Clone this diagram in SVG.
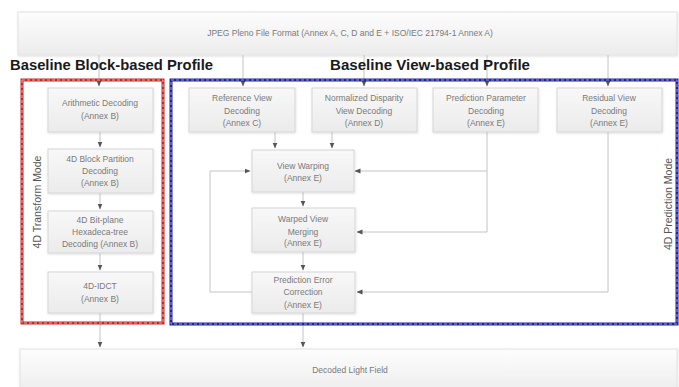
<svg xmlns="http://www.w3.org/2000/svg" width="679" height="387" viewBox="0 0 679 387">
<style>
.box{fill:url(#g);stroke:#d6d6d6;stroke-width:1;filter:url(#sh)}
.big{fill:url(#g2);stroke:#e2e2e2;stroke-width:1;filter:url(#sh)}
.t{font-family:"Liberation Sans",Arial,sans-serif;font-size:8.5px;fill:#7a7a7a;text-anchor:middle}
.title{font-family:"Liberation Sans",Arial,sans-serif;font-size:14px;font-weight:bold;fill:#1a1a1a}
.mode{font-family:"Liberation Sans",Arial,sans-serif;font-size:10.5px;fill:#555;text-anchor:middle}
.c{fill:none;stroke:#c4c4c4;stroke-width:1}
.ca{fill:none;stroke:#c4c4c4;stroke-width:1;marker-end:url(#arr)}
</style>
<defs>
<linearGradient id="g" x1="0" y1="0" x2="0" y2="1"><stop offset="0" stop-color="#f8f8f8"/><stop offset="1" stop-color="#ebebeb"/></linearGradient>
<linearGradient id="g2" x1="0" y1="0" x2="0" y2="1"><stop offset="0" stop-color="#fdfdfd"/><stop offset="1" stop-color="#ececec"/></linearGradient>
<filter id="sh" x="-5%" y="-10%" width="110%" height="130%"><feDropShadow dx="0.5" dy="1" stdDeviation="0.8" flood-color="#000" flood-opacity="0.12"/></filter>
<marker id="arr" markerWidth="6" markerHeight="6" refX="5.5" refY="3" orient="auto" markerUnits="userSpaceOnUse"><path d="M0,0.5 L6,3 L0,5.5 z" fill="#555"/></marker>
</defs>
<rect width="679" height="387" fill="#fff"/>

<g id="file-format"><rect class="big" x="18" y="12" width="659" height="43"/><text class="t" x="350" y="36" font-size="8.3">JPEG Pleno File Format (Annex A, C, D and E + ISO/IEC 21794-1 Annex A)</text></g>

<g id="connectors">
<path class="ca" d="M99,55 V86"/>
<path class="ca" d="M243,55 V86"/>
<path class="ca" d="M364,55 V86"/>
<path class="ca" d="M487,55 V86"/>
<path class="ca" d="M608,55 V86"/>
<path class="ca" d="M100,132 V147"/>
<path class="ca" d="M100,193 V209"/>
<path class="ca" d="M100,253 V270"/>
<path class="ca" d="M100,313 V347"/>
<path class="ca" d="M275,132 V148"/>
<path class="ca" d="M332,132 V148"/>
<path class="ca" d="M303,192 V206"/>
<path class="ca" d="M303,252 V270"/>
<path class="ca" d="M303,313 V347"/>
<path class="ca" d="M487,132 V232 H357"/>
<path class="ca" d="M487,171 H355"/>
<path class="ca" d="M608,132 V292 H357"/>
<path class="ca" d="M252,292 H210 V171 H250"/>
</g>

<text class="title" x="10" y="70" textLength="203" lengthAdjust="spacingAndGlyphs">Baseline Block-based Profile</text>
<text class="title" x="330" y="70" textLength="200" lengthAdjust="spacingAndGlyphs">Baseline View-based Profile</text>

<g id="block-profile">
<rect x="22" y="80" width="141" height="243" fill="none" stroke="#c62828" stroke-width="3"/>
<rect x="22" y="80" width="141" height="243" fill="none" stroke="#f2a6a6" stroke-width="1" stroke-dasharray="3 2"/>
<text class="mode" transform="translate(41,202) rotate(-90)">4D Transform Mode</text>
</g>
<g id="view-profile">
<rect x="171" y="80" width="506" height="244" fill="none" stroke="#23239a" stroke-width="3"/>
<rect x="171" y="80" width="506" height="244" fill="none" stroke="#9a9ad8" stroke-width="1" stroke-dasharray="3 2"/>
<text class="mode" transform="translate(672,204) rotate(-90)">4D Prediction Mode</text>
</g>

<g id="arithmetic"><rect class="box" x="48" y="88" width="105" height="44"/><text class="t" x="100" y="106">Arithmetic Decoding</text><text class="t" x="100" y="119">(Annex B)</text></g>
<g id="block-partition"><rect class="box" x="48" y="149" width="105" height="44"/><text class="t" x="100" y="162">4D Block Partition</text><text class="t" x="100" y="174">Decoding</text><text class="t" x="100" y="186">(Annex B)</text></g>
<g id="bitplane"><rect class="box" x="48" y="211" width="105" height="42"/><text class="t" x="100" y="223">4D Bit-plane</text><text class="t" x="100" y="235">Hexadeca-tree</text><text class="t" x="100" y="247">Decoding (Annex B)</text></g>
<g id="idct"><rect class="box" x="48" y="272" width="105" height="41"/><text class="t" x="100" y="289">4D-IDCT</text><text class="t" x="100" y="302">(Annex B)</text></g>

<g id="reference-view"><rect class="box" x="189" y="88" width="106" height="44"/><text class="t" x="242" y="101">Reference View</text><text class="t" x="242" y="114">Decoding</text><text class="t" x="242" y="126">(Annex C)</text></g>
<g id="disparity"><rect class="box" x="312" y="88" width="105" height="44"/><text class="t" x="364" y="101">Normalized Disparity</text><text class="t" x="364" y="114">View Decoding</text><text class="t" x="364" y="126">(Annex D)</text></g>
<g id="prediction-param"><rect class="box" x="433" y="88" width="105" height="44"/><text class="t" x="486" y="101">Prediction Parameter</text><text class="t" x="486" y="114">Decoding</text><text class="t" x="486" y="126">(Annex E)</text></g>
<g id="residual"><rect class="box" x="557" y="88" width="105" height="44"/><text class="t" x="609" y="101">Residual View</text><text class="t" x="609" y="114">Decoding</text><text class="t" x="609" y="126">(Annex E)</text></g>

<g id="view-warping"><rect class="box" x="252" y="150" width="102" height="42"/><text class="t" x="303" y="169">View Warping</text><text class="t" x="303" y="181">(Annex E)</text></g>
<g id="merging"><rect class="box" x="252" y="208" width="103" height="44"/><text class="t" x="303" y="222">Warped View</text><text class="t" x="303" y="235">Merging</text><text class="t" x="303" y="246">(Annex E)</text></g>
<g id="error-correction"><rect class="box" x="252" y="272" width="103" height="41"/><text class="t" x="303" y="283">Prediction Error</text><text class="t" x="303" y="295">Correction</text><text class="t" x="303" y="308">(Annex E)</text></g>

<g id="light-field"><rect class="big" x="20" y="349" width="657" height="46"/><text class="t" x="350" y="373">Decoded Light Field</text></g>
</svg>
